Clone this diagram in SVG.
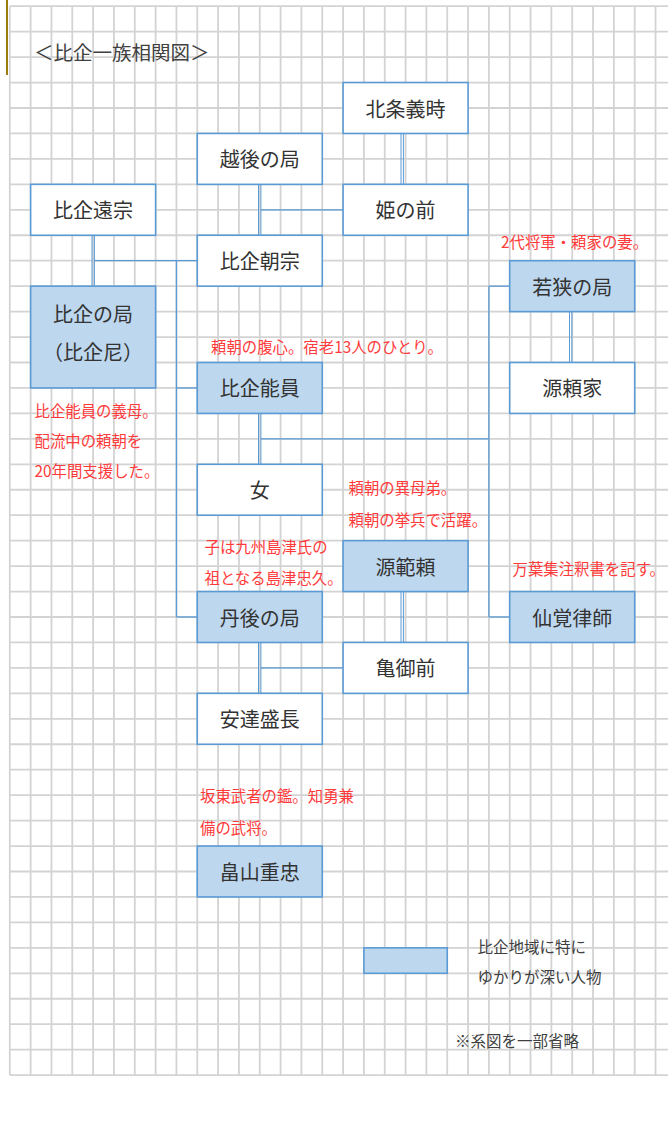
<svg xmlns="http://www.w3.org/2000/svg" width="668" height="1130" viewBox="0 0 668 1130">
<style>
.grid{stroke:#d3d3d3;stroke-width:1.8;fill:none}
.box{stroke:#5b9bd5;stroke-width:1.6;fill:#ffffff}
.hl{fill:#bdd7ee}
.conn{stroke:#5b9bd5;stroke-width:1.3;fill:none}
.dbl{stroke:#5b9bd5;stroke-width:1;fill:none}
.nt{font-family:"Noto Sans CJK JP","Noto Sans CJK SC",sans-serif;font-size:20px;fill:#333333;text-anchor:middle;dominant-baseline:central}
.note{font-family:"Noto Sans CJK JP","Noto Sans CJK SC",sans-serif;font-size:15.4px;fill:#ff3b3b;dominant-baseline:central}
.leg{font-family:"Noto Sans CJK JP","Noto Sans CJK SC",sans-serif;font-size:15.5px;fill:#404040;dominant-baseline:central}
.title{font-family:"Noto Sans CJK JP","Noto Sans CJK SC",sans-serif;font-size:19.5px;fill:#404040;dominant-baseline:central}
</style>
<rect x="0" y="0" width="668" height="1130" fill="#ffffff"/>
<g id="grid">
<path class="grid" d="M9.8 6.2V1075.1M30.63 6.2V1075.1M51.46 6.2V1075.1M72.29 6.2V1075.1M93.12 6.2V1075.1M113.95 6.2V1075.1M134.78 6.2V1075.1M155.61 6.2V1075.1M176.44 6.2V1075.1M197.27 6.2V1075.1M218.1 6.2V1075.1M238.93 6.2V1075.1M259.76 6.2V1075.1M280.59 6.2V1075.1M301.42 6.2V1075.1M322.25 6.2V1075.1M343.08 6.2V1075.1M363.91 6.2V1075.1M384.74 6.2V1075.1M405.57 6.2V1075.1M426.4 6.2V1075.1M447.23 6.2V1075.1M468.06 6.2V1075.1M488.89 6.2V1075.1M509.72 6.2V1075.1M530.55 6.2V1075.1M551.38 6.2V1075.1M572.21 6.2V1075.1M593.04 6.2V1075.1M613.87 6.2V1075.1M634.7 6.2V1075.1M655.53 6.2V1075.1"/>
<path class="grid" d="M9.8 6.2H668M9.8 31.65H668M9.8 57.1H668M9.8 82.55H668M9.8 108H668M9.8 133.45H668M9.8 158.9H668M9.8 184.35H668M9.8 209.8H668M9.8 235.25H668M9.8 260.7H668M9.8 286.15H668M9.8 311.6H668M9.8 337.05H668M9.8 362.5H668M9.8 387.95H668M9.8 413.4H668M9.8 438.85H668M9.8 464.3H668M9.8 489.75H668M9.8 515.2H668M9.8 540.65H668M9.8 566.1H668M9.8 591.55H668M9.8 617H668M9.8 642.45H668M9.8 667.9H668M9.8 693.35H668M9.8 718.8H668M9.8 744.25H668M9.8 769.7H668M9.8 795.15H668M9.8 820.6H668M9.8 846.05H668M9.8 871.5H668M9.8 896.95H668M9.8 922.4H668M9.8 947.85H668M9.8 973.3H668M9.8 998.75H668M9.8 1024.2H668M9.8 1049.65H668M9.8 1075.1H668"/>
</g>
<rect x="6" y="0" width="2" height="75" fill="#9e7c0c"/>
<text class="title" x="34" y="51.7">＜比企一族相関図＞</text>

<g id="connectors">
<path class="dbl" d="M401 133.45V184.35M403.4 133.45V184.35"/>
<path class="dbl" d="M258.5 184.35V235.25M260.9 184.35V235.25"/>
<path class="dbl" d="M92 235.25V286.15M94.4 235.25V286.15"/>
<path class="dbl" d="M569.5 311.6V362.5M571.9 311.6V362.5"/>
<path class="dbl" d="M258.5 413.4V464.3M260.9 413.4V464.3"/>
<path class="dbl" d="M401 591.55V642.45M403.4 591.55V642.45"/>
<path class="dbl" d="M258.5 642.45V693.35M260.9 642.45V693.35"/>
<path class="conn" d="M260.9 209.8H343.08"/>
<path class="conn" d="M94.4 260.7H197.27"/>
<path class="conn" d="M176.44 260.7V617"/>
<path class="conn" d="M176.44 387.95H197.27"/>
<path class="conn" d="M176.44 617H197.27"/>
<path class="conn" d="M260.9 438.85H488.89"/>
<path class="conn" d="M488.89 286.15V617"/>
<path class="conn" d="M488.89 286.15H509.72"/>
<path class="conn" d="M488.89 617H509.72"/>
<path class="conn" d="M260.9 667.9H343.08"/>
</g>

<g id="n-hojo-yoshitoki"><rect class="box" x="343.08" y="82.55" width="124.98" height="50.9"/><text class="nt" x="405.57" y="108">北条義時</text></g>
<g id="n-echigo"><rect class="box" x="197.27" y="133.45" width="124.98" height="50.9"/><text class="nt" x="259.76" y="158.9">越後の局</text></g>
<g id="n-hime"><rect class="box" x="343.08" y="184.35" width="124.98" height="50.9"/><text class="nt" x="405.57" y="209.8">姫の前</text></g>
<g id="n-tomune"><rect class="box" x="30.63" y="184.35" width="124.98" height="50.9"/><text class="nt" x="93.12" y="209.8">比企遠宗</text></g>
<g id="n-tomomune"><rect class="box" x="197.27" y="235.25" width="124.98" height="50.9"/><text class="nt" x="259.76" y="260.7">比企朝宗</text></g>
<g id="n-hikinotsubone"><rect class="box hl" x="30.63" y="286.15" width="124.98" height="101.8"/><text class="nt" x="93.12" y="313.5">比企の局</text><text class="nt" x="93.12" y="351">（比企尼）</text></g>
<g id="n-wakasa"><rect class="box hl" x="509.72" y="260.7" width="124.98" height="50.9"/><text class="nt" x="572.21" y="286.15">若狭の局</text></g>
<g id="n-yoshikazu"><rect class="box hl" x="197.27" y="362.5" width="124.98" height="50.9"/><text class="nt" x="259.76" y="387.95">比企能員</text></g>
<g id="n-yoriie"><rect class="box" x="509.72" y="362.5" width="124.98" height="50.9"/><text class="nt" x="572.21" y="387.95">源頼家</text></g>
<g id="n-onna"><rect class="box" x="197.27" y="464.3" width="124.98" height="50.9"/><text class="nt" x="259.76" y="489.75">女</text></g>
<g id="n-noriyori"><rect class="box hl" x="343.08" y="540.65" width="124.98" height="50.9"/><text class="nt" x="405.57" y="566.1">源範頼</text></g>
<g id="n-tango"><rect class="box hl" x="197.27" y="591.55" width="124.98" height="50.9"/><text class="nt" x="259.76" y="617">丹後の局</text></g>
<g id="n-sengaku"><rect class="box hl" x="509.72" y="591.55" width="124.98" height="50.9"/><text class="nt" x="572.21" y="617">仙覚律師</text></g>
<g id="n-kame"><rect class="box" x="343.08" y="642.45" width="124.98" height="50.9"/><text class="nt" x="405.57" y="667.9">亀御前</text></g>
<g id="n-adachi"><rect class="box" x="197.27" y="693.35" width="124.98" height="50.9"/><text class="nt" x="259.76" y="718.8">安達盛長</text></g>
<g id="n-hatakeyama"><rect class="box hl" x="197.27" y="846.05" width="124.98" height="50.9"/><text class="nt" x="259.76" y="871.5">畠山重忠</text></g>

<g id="notes">
<text class="note" x="501" y="240.5">2代将軍・頼家の妻。</text>
<text class="note" x="211" y="345.5">頼朝の腹心。宿老13人のひとり。</text>
<text class="note" x="34.5" y="410">比企能員の義母。</text>
<text class="note" x="34.5" y="440">配流中の頼朝を</text>
<text class="note" x="34.5" y="470">20年間支援した。</text>
<text class="note" x="348.5" y="487">頼朝の異母弟。</text>
<text class="note" x="348.5" y="519">頼朝の挙兵で活躍。</text>
<text class="note" x="204.5" y="545.5">子は九州島津氏の</text>
<text class="note" x="204.5" y="576.5">祖となる島津忠久。</text>
<text class="note" x="512.5" y="567.5">万葉集注釈書を記す。</text>
<text class="note" x="200" y="795">坂東武者の鑑。知勇兼</text>
<text class="note" x="200" y="826.5">備の武将。</text>
</g>

<g id="legend">
<rect class="box hl" x="363.91" y="947.85" width="83.32" height="25.45"/>
<text class="leg" x="477.5" y="945.5">比企地域に特に</text>
<text class="leg" x="477.5" y="975.5">ゆかりが深い人物</text>
<text class="leg" x="455" y="1040">※系図を一部省略</text>
</g>
</svg>
